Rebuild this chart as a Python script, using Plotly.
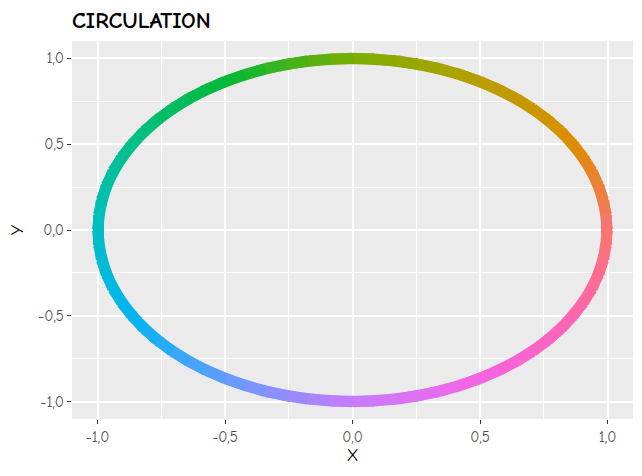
import plotly.graph_objects as go
from plotly.colors import sample_colorscale

# points around the circle, every 5 degrees
angle_deg = [0, 5, 10, 15, 20, 25, 30, 35, 40, 45, 50, 55, 60, 65, 70, 75, 80, 85,
             90, 95, 100, 105, 110, 115, 120, 125, 130, 135, 140, 145, 150, 155, 160, 165, 170, 175,
             180, 185, 190, 195, 200, 205, 210, 215, 220, 225, 230, 235, 240, 245, 250, 255, 260, 265,
             270, 275, 280, 285, 290, 295, 300, 305, 310, 315, 320, 325, 330, 335, 340, 345, 350, 355]
x_vals = [1.000, 0.996, 0.985, 0.966, 0.940, 0.906, 0.866, 0.819, 0.766, 0.707, 0.643, 0.574, 0.500, 0.423, 0.342, 0.259, 0.174, 0.087,
          0.000, -0.087, -0.174, -0.259, -0.342, -0.423, -0.500, -0.574, -0.643, -0.707, -0.766, -0.819, -0.866, -0.906, -0.940, -0.966, -0.985, -0.996,
          -1.000, -0.996, -0.985, -0.966, -0.940, -0.906, -0.866, -0.819, -0.766, -0.707, -0.643, -0.574, -0.500, -0.423, -0.342, -0.259, -0.174, -0.087,
          0.000, 0.087, 0.174, 0.259, 0.342, 0.423, 0.500, 0.574, 0.643, 0.707, 0.766, 0.819, 0.866, 0.906, 0.940, 0.966, 0.985, 0.996]
y_vals = [0.000, 0.087, 0.174, 0.259, 0.342, 0.423, 0.500, 0.574, 0.643, 0.707, 0.766, 0.819, 0.866, 0.906, 0.940, 0.966, 0.985, 0.996,
          1.000, 0.996, 0.985, 0.966, 0.940, 0.906, 0.866, 0.819, 0.766, 0.707, 0.643, 0.574, 0.500, 0.423, 0.342, 0.259, 0.174, 0.087,
          0.000, -0.087, -0.174, -0.259, -0.342, -0.423, -0.500, -0.574, -0.643, -0.707, -0.766, -0.819, -0.866, -0.906, -0.940, -0.966, -0.985, -0.996,
          -1.000, -0.996, -0.985, -0.966, -0.940, -0.906, -0.866, -0.819, -0.766, -0.707, -0.643, -0.574, -0.500, -0.423, -0.342, -0.259, -0.174, -0.087]

tick_vals = [-1.0, -0.5, 0.0, 0.5, 1.0]
tick_text = ["-1,0", "-0,5", "0,0", "0,5", "1,0"]

# ggplot2 default hue palette (h 15..375, c 100, l 65)
HUE = ["#F8766D", "#DE8C00", "#B79F00", "#7CAE00", "#00BA38", "#00C08B", "#00BFC4",
       "#00B4F0", "#619CFF", "#C77CFF", "#F564E3", "#FF64B0", "#F8766D"]
hue_scale = [[i / 12, c] for i, c in enumerate(HUE)]

FONT = "Humor Sans, xkcd, Comic Neue, Comic Sans MS, Lato, sans-serif"

fig = go.Figure()
n = len(angle_deg)
for i in range(n):
    # each piece runs over three points so the next piece overlaps it (no seams)
    idx = [i, (i + 1) % n, (i + 2) % n]
    mid = (angle_deg[i] + 2.5) / 360
    col = sample_colorscale(hue_scale, [mid])[0]
    fig.add_trace(go.Scatter(
        x=[x_vals[k] for k in idx], y=[y_vals[k] for k in idx],
        mode="lines", line=dict(color=col, width=11),
        hoverinfo="skip", showlegend=False,
    ))

axis_common = dict(
    tickvals=tick_vals, ticktext=tick_text,
    ticks="outside", ticklen=4, tickwidth=1, tickcolor="#333333",
    tickfont=dict(family=FONT, size=15, color="#4D4D4D"),
    showgrid=True, gridcolor="white", gridwidth=1.8,
    minor=dict(dtick=0.25, tick0=0.25, showgrid=True, gridcolor="white", gridwidth=0.8, ticklen=0),
    zeroline=False, showline=False, range=[-1.1, 1.1], automargin=False,
)

fig.update_xaxes(**axis_common, title=dict(text="X", font=dict(family=FONT, size=17, color="black"), standoff=4))
fig.update_yaxes(**axis_common, title=dict(text="Y", font=dict(family=FONT, size=17, color="black"), standoff=14))

# page body adds an 8px offset, so the figure is sized to fit inside it
fig.update_layout(
    width=626, height=460,
    margin=dict(l=64, r=1, t=33, b=49),
    plot_bgcolor="#EBEBEB", paper_bgcolor="white",
    title=dict(text="<b>CIRCULATION</b>", x=64 / 626, xanchor="left", y=12 / 460, yref="paper",
               yanchor="middle", font=dict(family=FONT, size=23, color="black")),
    showlegend=False,
)
fig.update_layout(title=dict(y=1 - 12 / 460, yref="container"))

fig.write_html("out.html")
